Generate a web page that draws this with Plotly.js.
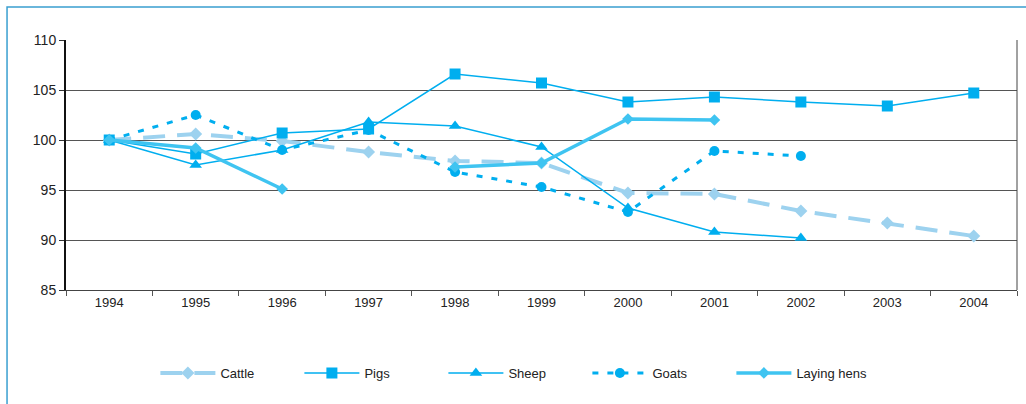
<!DOCTYPE html>
<html>
<head>
<meta charset="utf-8">
<script src="https://cdn.plot.ly/plotly-3.0.1.min.js"></script>
<style>
html,body{margin:0;padding:0;background:#fff;}
#chart{width:1026px;height:404px;}
</style>
</head>
<body>
<div id="chart"></div>
<script>
var years = ['1994','1995','1996','1997','1998','1999','2000','2001','2002','2003','2004'];
var cattle = [100, 100.6, 99.9, 98.8, 97.9, 97.7, 94.7, 94.6, 92.9, 91.7, 90.4];
var pigs   = [100, 98.6, 100.7, 101.1, 106.6, 105.7, 103.8, 104.3, 103.8, 103.4, 104.7];
var sheep  = [100, 97.5, 99.0, 101.8, 101.4, 99.3, 93.2, 90.8, 90.2, null, null];
var goats  = [100, 102.5, 99.0, 101.0, 96.8, 95.3, 92.8, 98.9, 98.4, null, null];
var hens   = [100, 99.2, 95.1, null, 97.3, 97.7, 102.1, 102.0, null, null, null];

var traces = [
  {name:'Cattle', x:years, y:cattle, type:'scatter', mode:'lines+markers',
   line:{color:'#9dd2ef', width:4, dash:'22px,12px'}, marker:{symbol:'diamond', size:10, color:'#9dd2ef'}},
  {name:'Pigs', x:years, y:pigs, type:'scatter', mode:'lines+markers',
   line:{color:'#00aeef', width:1.5}, marker:{symbol:'square', size:11, color:'#00aeef'}},
  {name:'Sheep', x:years, y:sheep, type:'scatter', mode:'lines+markers',
   line:{color:'#00aeef', width:1.5}, marker:{symbol:'triangle-up', size:11, color:'#00aeef'}},
  {name:'Goats', x:years, y:goats, type:'scatter', mode:'lines+markers',
   line:{color:'#00aeef', width:3, dash:'6px,9px'}, marker:{symbol:'circle', size:10, color:'#00aeef'}},
  {name:'Laying hens', x:years, y:hens, type:'scatter', mode:'lines+markers', connectgaps:false,
   line:{color:'#3fc4f1', width:3.5}, marker:{symbol:'diamond', size:9, color:'#3fc4f1'}}
];

var layout = {
  width:1026, height:404,
  margin:{l:66, r:9, t:40, b:114, autoexpand:false},
  paper_bgcolor:'#ffffff', plot_bgcolor:'#ffffff',
  font:{family:'Liberation Sans, Arial, sans-serif', size:13, color:'#222'},
  showlegend:true,
  legend:{orientation:'h', x:0.094, xanchor:'left', y:-0.332, yanchor:'middle',
          font:{size:13, color:'#222'}, entrywidth:74, itemwidth:55},
  xaxis:{type:'category', range:[-0.5,10.5], autorange:false, automargin:false,
         tickson:'boundaries', ticks:'outside', ticklen:5, tickcolor:'#555',
         showline:true, linecolor:'#444', linewidth:1, showgrid:false, zeroline:false,
         tickfont:{size:13, color:'#222'}, fixedrange:true},
  yaxis:{range:[85,110], autorange:false, automargin:false, tickvals:[85,90,95,100,105,110],
         ticks:'outside', ticklen:5, tickcolor:'#333',
         showline:true, linecolor:'#111', linewidth:2, showgrid:true, gridcolor:'#555', gridwidth:1,
         zeroline:false, tickfont:{size:14, color:'#222'}, fixedrange:true},
  shapes:[
    {type:'line', xref:'paper', yref:'paper', x0:1, x1:1, y0:0, y1:1, line:{color:'#444', width:1}},
    {type:'rect', xref:'paper', yref:'paper', x0:-0.062, x1:1.02, y0:-0.5, y1:1.132,
     line:{color:'#3a9fd0', width:1.5}, fillcolor:'rgba(0,0,0,0)', layer:'below'}
  ]
};

Plotly.newPlot('chart', traces, layout, {displayModeBar:false, staticPlot:true});
</script>
</body>
</html>
